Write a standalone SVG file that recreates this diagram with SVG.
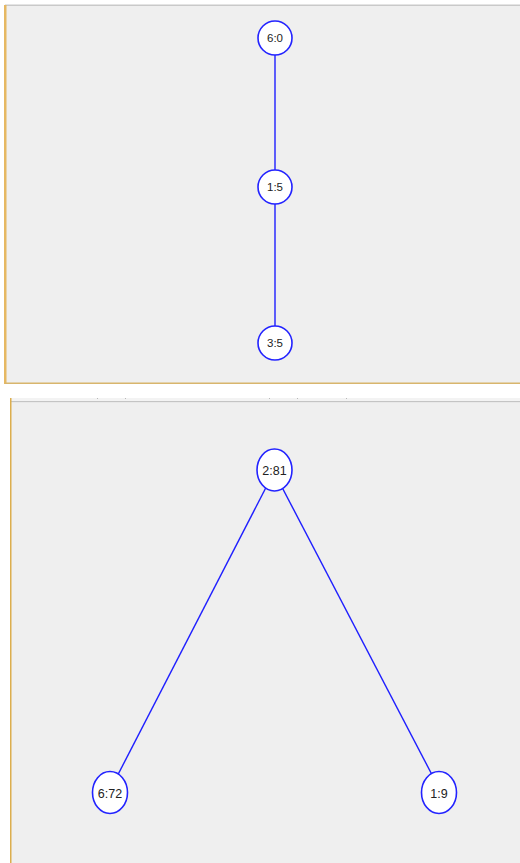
<svg xmlns="http://www.w3.org/2000/svg" width="520" height="863" viewBox="0 0 520 863">
  <style>
    .panel { fill: #efefef; }
    .edge { stroke: #1f1fff; stroke-width: 1.4; fill: none; }
    .node { fill: #ffffff; stroke: #2323ff; stroke-width: 1.6; }
    .label { font-family: "Liberation Sans", Arial, sans-serif; font-size: 11.5px; fill: #222222; text-anchor: middle; dominant-baseline: central; }
    .label-lg { font-size: 12.5px; }
  </style>

  <rect x="0" y="0" width="520" height="863" fill="#ffffff"/>

  <!-- upper tree panel -->
  <g id="panel-top">
    <rect class="panel" x="5" y="5" width="515" height="378"/>
    <rect x="5" y="4.5" width="515" height="1.5" fill="#c9c9c9"/>
    <rect x="4" y="5" width="2.5" height="379" fill="#e6b862"/>
    <rect x="5" y="382.5" width="515" height="1.5" fill="#d8b56c"/>
  </g>

  <!-- lower tree panel -->
  <g id="panel-bottom">
    <rect x="10" y="398" width="510" height="4" fill="#f3f3f3"/>
    <rect x="10" y="401" width="510" height="1.5" fill="#c4c4c4"/>
    <rect class="panel" x="10" y="402.5" width="510" height="461"/>
    <rect x="10" y="398" width="1.5" height="465" fill="#dcae4e"/>
    <g fill="#b8b8b8">
      <rect x="97" y="398" width="1" height="1"/>
      <rect x="125" y="398" width="1" height="1"/>
      <rect x="269" y="398" width="1" height="1"/>
      <rect x="297" y="398" width="1" height="1"/>
      <rect x="346" y="398" width="1" height="1"/>
    </g>
  </g>

  <g id="connectors">
    <line class="edge" x1="275" y1="38" x2="275" y2="187"/>
    <line class="edge" x1="275" y1="187" x2="275" y2="342"/>
    <line class="edge" x1="275" y1="470" x2="109" y2="792"/>
    <line class="edge" x1="273" y1="470" x2="441" y2="792"/>
  </g>

  <g id="n-6-0">
    <circle class="node" cx="275" cy="38" r="17"/>
    <text class="label" x="275" y="38">6:0</text>
  </g>
  <g id="n-1-5">
    <circle class="node" cx="275" cy="187" r="17"/>
    <text class="label" x="275" y="187">1:5</text>
  </g>
  <g id="n-3-5">
    <circle class="node" cx="275" cy="343" r="17"/>
    <text class="label" x="275" y="343">3:5</text>
  </g>

  <g id="n-2-81">
    <ellipse class="node" cx="274.5" cy="470" rx="17.5" ry="21"/>
    <text class="label label-lg" x="274.5" y="471">2:81</text>
  </g>
  <g id="n-6-72">
    <ellipse class="node" cx="110" cy="792.5" rx="17.5" ry="21"/>
    <text class="label label-lg" x="110" y="793.5">6:72</text>
  </g>
  <g id="n-1-9">
    <ellipse class="node" cx="439" cy="792.5" rx="17.5" ry="21"/>
    <text class="label label-lg" x="439" y="793.5">1:9</text>
  </g>
</svg>
